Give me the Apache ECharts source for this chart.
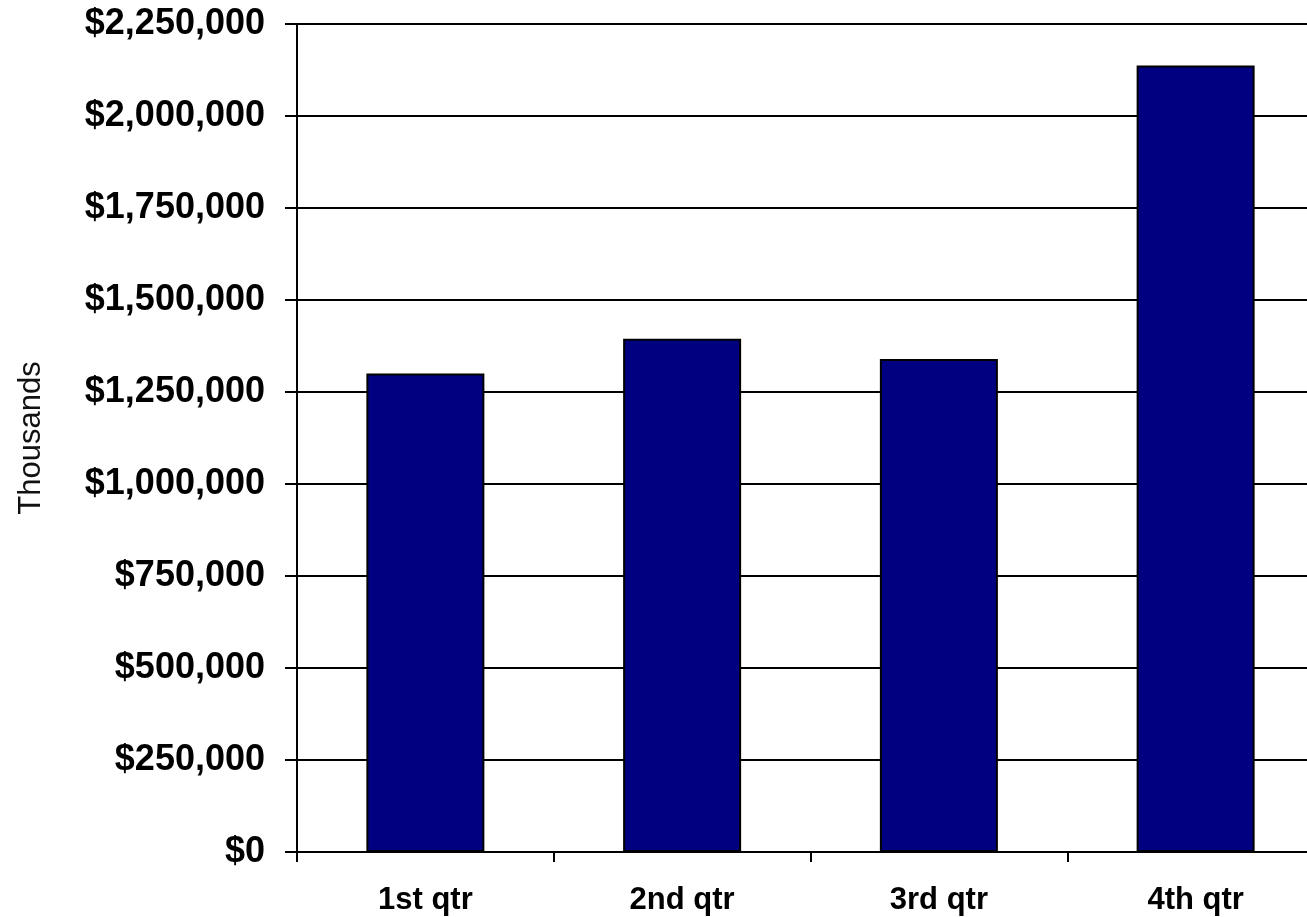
<!DOCTYPE html>
<html>
<head>
<meta charset="utf-8">
<script src="https://cdn.jsdelivr.net/npm/echarts@6/dist/echarts.min.js"></script>
<style>html,body{margin:0;padding:0;background:#fff;}#c{width:1307px;height:917px;}</style>
</head>
<body>
<div id="c"></div>
<script>
var categories = ['1st qtr', '2nd qtr', '3rd qtr', '4th qtr'];
var values = [1300000, 1395000, 1340000, 2137000];
var yAxisName = 'Thousands';

function fmt(v) {
  return '$' + String(v).replace(/\B(?=(\d{3})+(?!\d))/g, ',');
}

var chart = echarts.init(document.getElementById('c'), null, {renderer: 'canvas'});
chart.setOption({
  animation: false,
  backgroundColor: '#ffffff',
  grid: {left: 297, top: 24, width: 1027, height: 828, containLabel: false, outerBoundsMode: 'none'},
  xAxis: {
    type: 'category',
    data: categories,
    axisLine: {show: true, lineStyle: {color: '#000', width: 2}},
    axisTick: {show: true, length: 10, alignWithLabel: false, lineStyle: {color: '#000', width: 2}},
    axisLabel: {color: '#000', fontFamily: 'Liberation Sans, Arial, sans-serif', fontWeight: 'bold', fontSize: 31, margin: 33},
    splitLine: {show: false}
  },
  yAxis: {
    type: 'value',
    min: 0, max: 2250000, interval: 250000,
    name: yAxisName,
    nameLocation: 'middle',
    nameGap: 250,
    nameRotate: 90,
    nameTextStyle: {color: '#111', fontFamily: 'Liberation Sans, Arial, sans-serif', fontSize: 31},
    axisLine: {show: true, lineStyle: {color: '#000', width: 2}},
    axisTick: {show: true, length: 12, lineStyle: {color: '#000', width: 2}},
    axisLabel: {color: '#000', fontFamily: 'Liberation Sans, Arial, sans-serif', fontWeight: 'bold', fontSize: 36, margin: 32, formatter: fmt},
    splitLine: {show: true, lineStyle: {color: '#000', width: 2}}
  },
  series: [{
    type: 'bar',
    data: values,
    barWidth: 118,
    itemStyle: {color: '#000080', borderColor: '#000', borderWidth: 2}
  }]
});
</script>
</body>
</html>
